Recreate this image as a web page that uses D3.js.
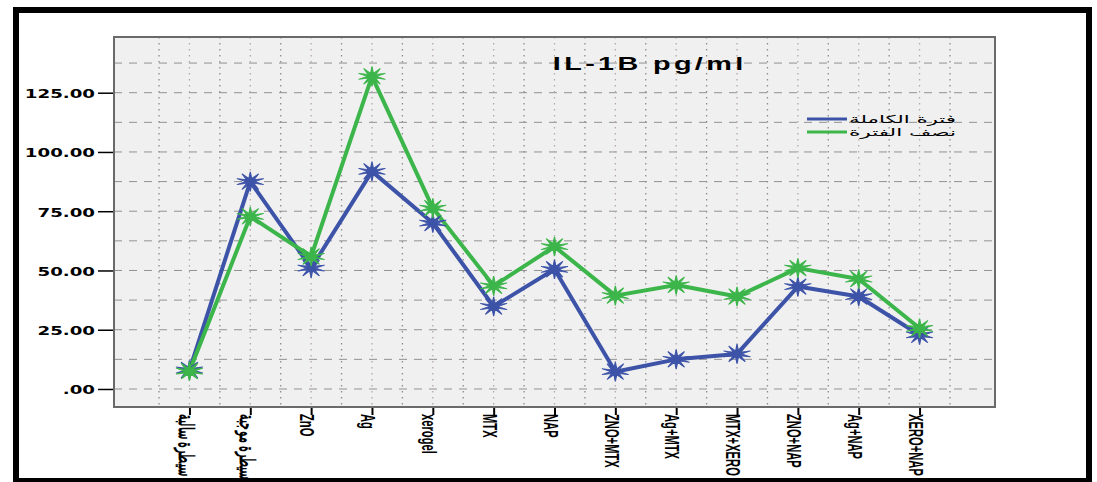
<!DOCTYPE html>
<html lang="ar">
<head>
<meta charset="utf-8">
<title>IL-1B pg/ml</title>
<style>
  body { margin: 0; background: #fff; }
  svg { display: block; }
  .ytick { font-family: "DejaVu Sans", sans-serif; font-weight: bold; font-size: 13px; }
  .xtick { font-family: "Liberation Sans", Arial, sans-serif; font-weight: bold; font-size: 14px; }
  .title { font-family: "Liberation Sans", Arial, sans-serif; font-weight: bold; font-size: 18px; }
  .legend { font-family: "DejaVu Sans", sans-serif; font-size: 11px; }
</style>
</head>
<body>
<div id="chart"></div>
<script src="https://cdn.jsdelivr.net/npm/d3@7"></script>
<script>
// data
var categories = ["سيطرة سالبة", "سيطرة موجبة", "ZnO", "Ag", "xerogel", "MTX", "NAP",
                  "ZNO+MTX", "Ag+MTX", "MTX+XERO", "ZNO+NAP", "Ag+NAP", "XERO+NAP"];
var fullPeriod = [8.0, 87.5, 51.0, 91.8, 70.0, 34.8, 50.5, 7.3, 12.5, 14.8, 43.2, 39.0, 22.8];
var halfPeriod = [7.5, 72.8, 55.9, 131.9, 76.3, 43.5, 60.1, 39.4, 43.9, 39.0, 51.0, 46.4, 25.6];
var seriesNames = ["فترة الكاملة", "نصف الفترة"];
var yTicks = [0, 25, 50, 75, 100, 125];
var title = "IL-1B pg/ml";

var width = 1097, height = 482;
var plot = { left: 114, right: 995, top: 37, bottom: 407 };
var colors = ["#3d53a8", "#3cb54a"];

var svg = d3.select('#chart').append('svg')
    .attr('width', width)
    .attr('height', height);

// outer black frame
svg.append('rect')
    .attr('x', 16).attr('y', 10)
    .attr('width', 1073).attr('height', 471)
    .attr('fill', '#fff')
    .attr('stroke', '#000')
    .attr('stroke-width', 6);

var x = d3.scalePoint()
    .domain(categories)
    .range([plot.left, plot.right])
    .padding(1.24);

var y = d3.scaleLinear()
    .domain([-7.6, 148.5])
    .range([plot.bottom, plot.top]);

// plot background
svg.append('rect')
    .attr('x', plot.left).attr('y', plot.top)
    .attr('width', plot.right - plot.left)
    .attr('height', plot.bottom - plot.top)
    .attr('fill', '#f0f0f0');

// horizontal dashed grid every 12.5
var hGrid = d3.range(0, 140, 12.5);
svg.append('g').selectAll('line')
    .data(hGrid).enter().append('line')
    .attr('x1', plot.left).attr('x2', plot.right)
    .attr('y1', function(d) { return y(d); })
    .attr('y2', function(d) { return y(d); })
    .attr('stroke', '#929292')
    .attr('stroke-width', 1)
    .attr('stroke-dasharray', '8,7');

// vertical dotted grid: at categories and half way between
var step = x.step();
var vMinor = [x(categories[0]) - step / 2].concat(categories.map(function(c) { return x(c) + step / 2; }));
svg.append('g').selectAll('line')
    .data(vMinor).enter().append('line')
    .attr('x1', function(d) { return d; }).attr('x2', function(d) { return d; })
    .attr('y1', plot.top).attr('y2', plot.bottom)
    .attr('stroke', '#8c8c8c')
    .attr('stroke-width', 1.3)
    .attr('stroke-dasharray', '1.5,4.5');
svg.append('g').selectAll('line')
    .data(categories).enter().append('line')
    .attr('x1', function(d) { return x(d); }).attr('x2', function(d) { return x(d); })
    .attr('y1', plot.top).attr('y2', plot.bottom)
    .attr('stroke', '#b5a8a8')
    .attr('stroke-width', 1.3)
    .attr('stroke-dasharray', '1.5,4.5');

// plot border
svg.append('rect')
    .attr('x', plot.left).attr('y', plot.top)
    .attr('width', plot.right - plot.left)
    .attr('height', plot.bottom - plot.top)
    .attr('fill', 'none')
    .attr('stroke', '#6a6a6a')
    .attr('stroke-width', 2);

// y axis
var yAxis = d3.axisLeft(y)
    .tickValues(yTicks)
    .tickSize(15)
    .tickPadding(3)
    .tickFormat(function(d) { return d === 0 ? '.00' : d3.format('.2f')(d); });
var yG = svg.append('g')
    .attr('transform', 'translate(' + (plot.left - 1) + ',0)')
    .call(yAxis);
yG.select('.domain').remove();
yG.selectAll('.tick line').attr('stroke', '#000').attr('stroke-width', 1.5);
yG.selectAll('.tick text')
    .attr('class', 'ytick')
    .attr('fill', '#000')
    .attr('x', null)
    .attr('dy', null)
    .attr('y', 5)
    .attr('transform', 'translate(-18,0) scale(1.4,1)');

// x axis
var xAxis = d3.axisBottom(x).tickSize(7).tickSizeOuter(0);
var xG = svg.append('g')
    .attr('transform', 'translate(0,' + (plot.bottom + 1) + ')')
    .call(xAxis);
xG.select('.domain').remove();
xG.selectAll('.tick line').attr('stroke', '#000').attr('stroke-width', 2);
xG.selectAll('.tick text')
    .attr('class', 'xtick')
    .attr('fill', '#000')
    .attr('y', null)
    .attr('dy', null)
    .attr('text-anchor', 'start')
    .attr('transform', 'translate(0,6) rotate(90) scale(0.8,1.5)')
    .attr('x', 0)
    .attr('y', 7.5);

// star marker
var burst = {
  draw: function(context, size) {
    var rOut = Math.sqrt(size), rIn = rOut * 0.32, n = 10;
    for (var i = 0; i < n * 2; i++) {
      var r = i % 2 === 0 ? rOut : rIn;
      var a = Math.PI * i / n - Math.PI / 2;
      if (i === 0) context.moveTo(r * Math.cos(a), r * Math.sin(a));
      else context.lineTo(r * Math.cos(a), r * Math.sin(a));
    }
    context.closePath();
  }
};
var marker = d3.symbol().type(burst).size(95);

var series = [fullPeriod, halfPeriod];
var line = d3.line()
    .x(function(d, i) { return x(categories[i]); })
    .y(function(d) { return y(d); });

series.forEach(function(values, s) {
  svg.append('path')
      .datum(values)
      .attr('d', line)
      .attr('fill', 'none')
      .attr('stroke', colors[s])
      .attr('stroke-width', 4)
      .attr('stroke-linejoin', 'round');
});
series.forEach(function(values, s) {
  svg.append('g').selectAll('path')
      .data(values).enter().append('path')
      .attr('d', marker)
      .attr('transform', function(d, i) {
        return 'translate(' + x(categories[i]) + ',' + y(d) + ') scale(1.45,1)';
      })
      .attr('fill', colors[s])
      .attr('stroke', colors[s])
      .attr('stroke-width', 0.8);
});

// title
svg.append('text')
    .attr('class', 'title')
    .attr('transform', 'translate(648,70) scale(1.6,1)')
    .attr('text-anchor', 'middle')
    .attr('textLength', 119)
    .attr('lengthAdjust', 'spacing')
    .text(title);

// legend
var legend = svg.append('g').selectAll('g')
    .data(seriesNames).enter().append('g')
    .attr('transform', function(d, i) { return 'translate(807,' + (119 + i * 13) + ')'; });
legend.append('line')
    .attr('x1', 0).attr('x2', 40)
    .attr('stroke', function(d, i) { return colors[i]; })
    .attr('stroke-width', 3);
legend.append('text')
    .attr('class', 'legend')
    .attr('x', 42)
    .attr('y', 4)
    .attr('textLength', 107)
    .attr('lengthAdjust', 'spacingAndGlyphs')
    .text(function(d) { return d; });
</script>
</body>
</html>
